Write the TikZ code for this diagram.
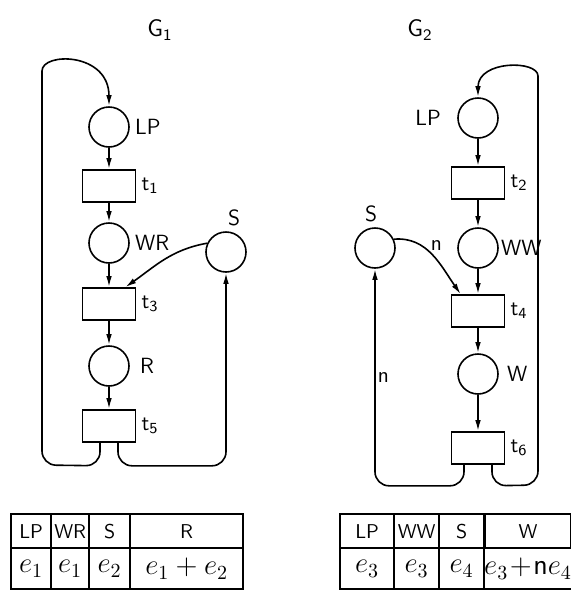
\documentclass[tikz,border=0pt]{standalone}
\usetikzlibrary{arrows.meta,calc,matrix,positioning}

\begin{document}
\begin{tikzpicture}[
  x=0.5pt, y=-0.5pt,
  font=\sffamily,
  place/.style={draw, circle, line width=0.8pt, minimum size=20pt, inner sep=0pt},
  trans/.style={draw, rectangle, line width=0.8pt, minimum width=26.5pt, minimum height=16pt, inner sep=0pt},
  arc/.style={line width=0.8pt, -{Latex[length=5.5pt,width=2.8pt]}},
  backarc/.style={arc, rounded corners=7pt},
  lbl/.style={inner sep=1pt, font=\sffamily\fontsize{11}{13}\selectfont},
  tab/.style={matrix of nodes, inner sep=0pt, column sep=-0.8pt, row sep=-0.8pt,
    nodes={draw, line width=0.8pt, inner sep=0pt, anchor=center},
    row 1/.style={nodes={minimum height=17pt}},
    row 2/.style={nodes={minimum height=20.5pt, font=\Large}}},
  every label/.style={lbl},
  label distance=1.5pt
]
  \useasboundingbox (0,0) rectangle (571,590);

  \node (title1) at (160,30) {\large G\textsubscript{1}};
  \node[place,label=right:LP] (LP1) at (109,127) {};
  \node[trans,label=right:t\textsubscript{1}] (t1) at (109,186) {};
  \node[place,label=right:WR] (WR) at (109,243) {};
  \node[place,label={[xshift=4pt]above:S}] (S1) at (226,252) {};
  \node[trans,label=right:t\textsubscript{3}] (t3) at (109,304) {};
  \node[place,label={[label distance=4pt]right:R}] (R) at (109,366) {};
  \node[trans,label=right:t\textsubscript{5}] (t5) at (109,426) {};

  \draw[arc] (LP1) -- (t1);
  \draw[arc] (t1) -- (WR);
  \draw[arc] (WR) -- (t3);
  \draw[arc] (t3) -- (R);
  \draw[arc] (R) -- (t5);
  \draw[arc] (S1.155) to[out=190,in=35] ($(t3.north east)+(-11,0)$);
  \draw[backarc] ($(t5.south)+(-9,0)$) -- ++(0,23) -- (42,465) -- (42,85)
    [sharp corners] .. controls (42,52) and (109,52) .. (LP1.north);
  \draw[backarc] ($(t5.south)+(9,0)$) -- ++(0,23) -| (S1.south);

  \node (title2) at (420,30) {\large G\textsubscript{2}};
  \node[place,label={[label distance=7pt]left:LP}] (LP2) at (478,118) {};
  \node[trans,label=right:t\textsubscript{2}] (t2) at (478,183) {};
  \node[place,label={[label distance=0pt]right:WW}] (WW) at (478,248) {};
  \node[place,label={[xshift=-2pt]above:S}] (S2) at (375,248) {};
  \node[trans,label=right:t\textsubscript{4}] (t4) at (478,311) {};
  \node[place,label={[label distance=3pt]right:W}] (W) at (478,374) {};
  \node[trans,label=right:t\textsubscript{6}] (t6) at (478,448) {};

  \draw[arc] (LP2) -- (t2);
  \draw[arc] (t2) -- (WW);
  \draw[arc] (WW) -- (t4);
  \draw[arc] (t4) -- (W);
  \draw[arc] (W) -- (t6);
  \draw[arc] (S2.25) to[out=5,in=125]
    node[lbl,pos=.45,above right=-1pt] (n1) {n}
    ($(t4.north west)+(10,0)$);
  \draw[backarc] ($(t6.south)+(-14,0)$) -- ++(0,21) -|
    node[lbl,pos=.75,right] (n2) {n} (S2.south);
  \draw[backarc] ($(t6.south)+(14,0)$) -- ++(0,21) -- (538,485) -- (538,90)
    [sharp corners] .. controls (538,60) and (478,60) .. (LP2.north);

  \matrix[tab, anchor=north west,
    column 1/.style={nodes={minimum width=20pt}},
    column 2/.style={nodes={minimum width=19pt}},
    column 3/.style={nodes={minimum width=20.5pt}},
    column 4/.style={nodes={minimum width=56.5pt}}] (tab1) at (10,513) {
    LP & WR & S & R \\
    $e_1$ & $e_1$ & $e_2$ & $e_1+e_2$ \\
  };
  \matrix[tab, anchor=north west,
    column 1/.style={nodes={minimum width=27pt}},
    column 2/.style={nodes={minimum width=22.5pt}},
    column 3/.style={nodes={minimum width=22.5pt}},
    column 4/.style={nodes={minimum width=43pt}}] (tab2) at (339,513) {
    LP & WW & S & W \\
    $e_3$ & $e_3$ & $e_4$ & $e_3\!+\!\mathsf{n}e_4$ \\
  };
\end{tikzpicture}
\end{document}
